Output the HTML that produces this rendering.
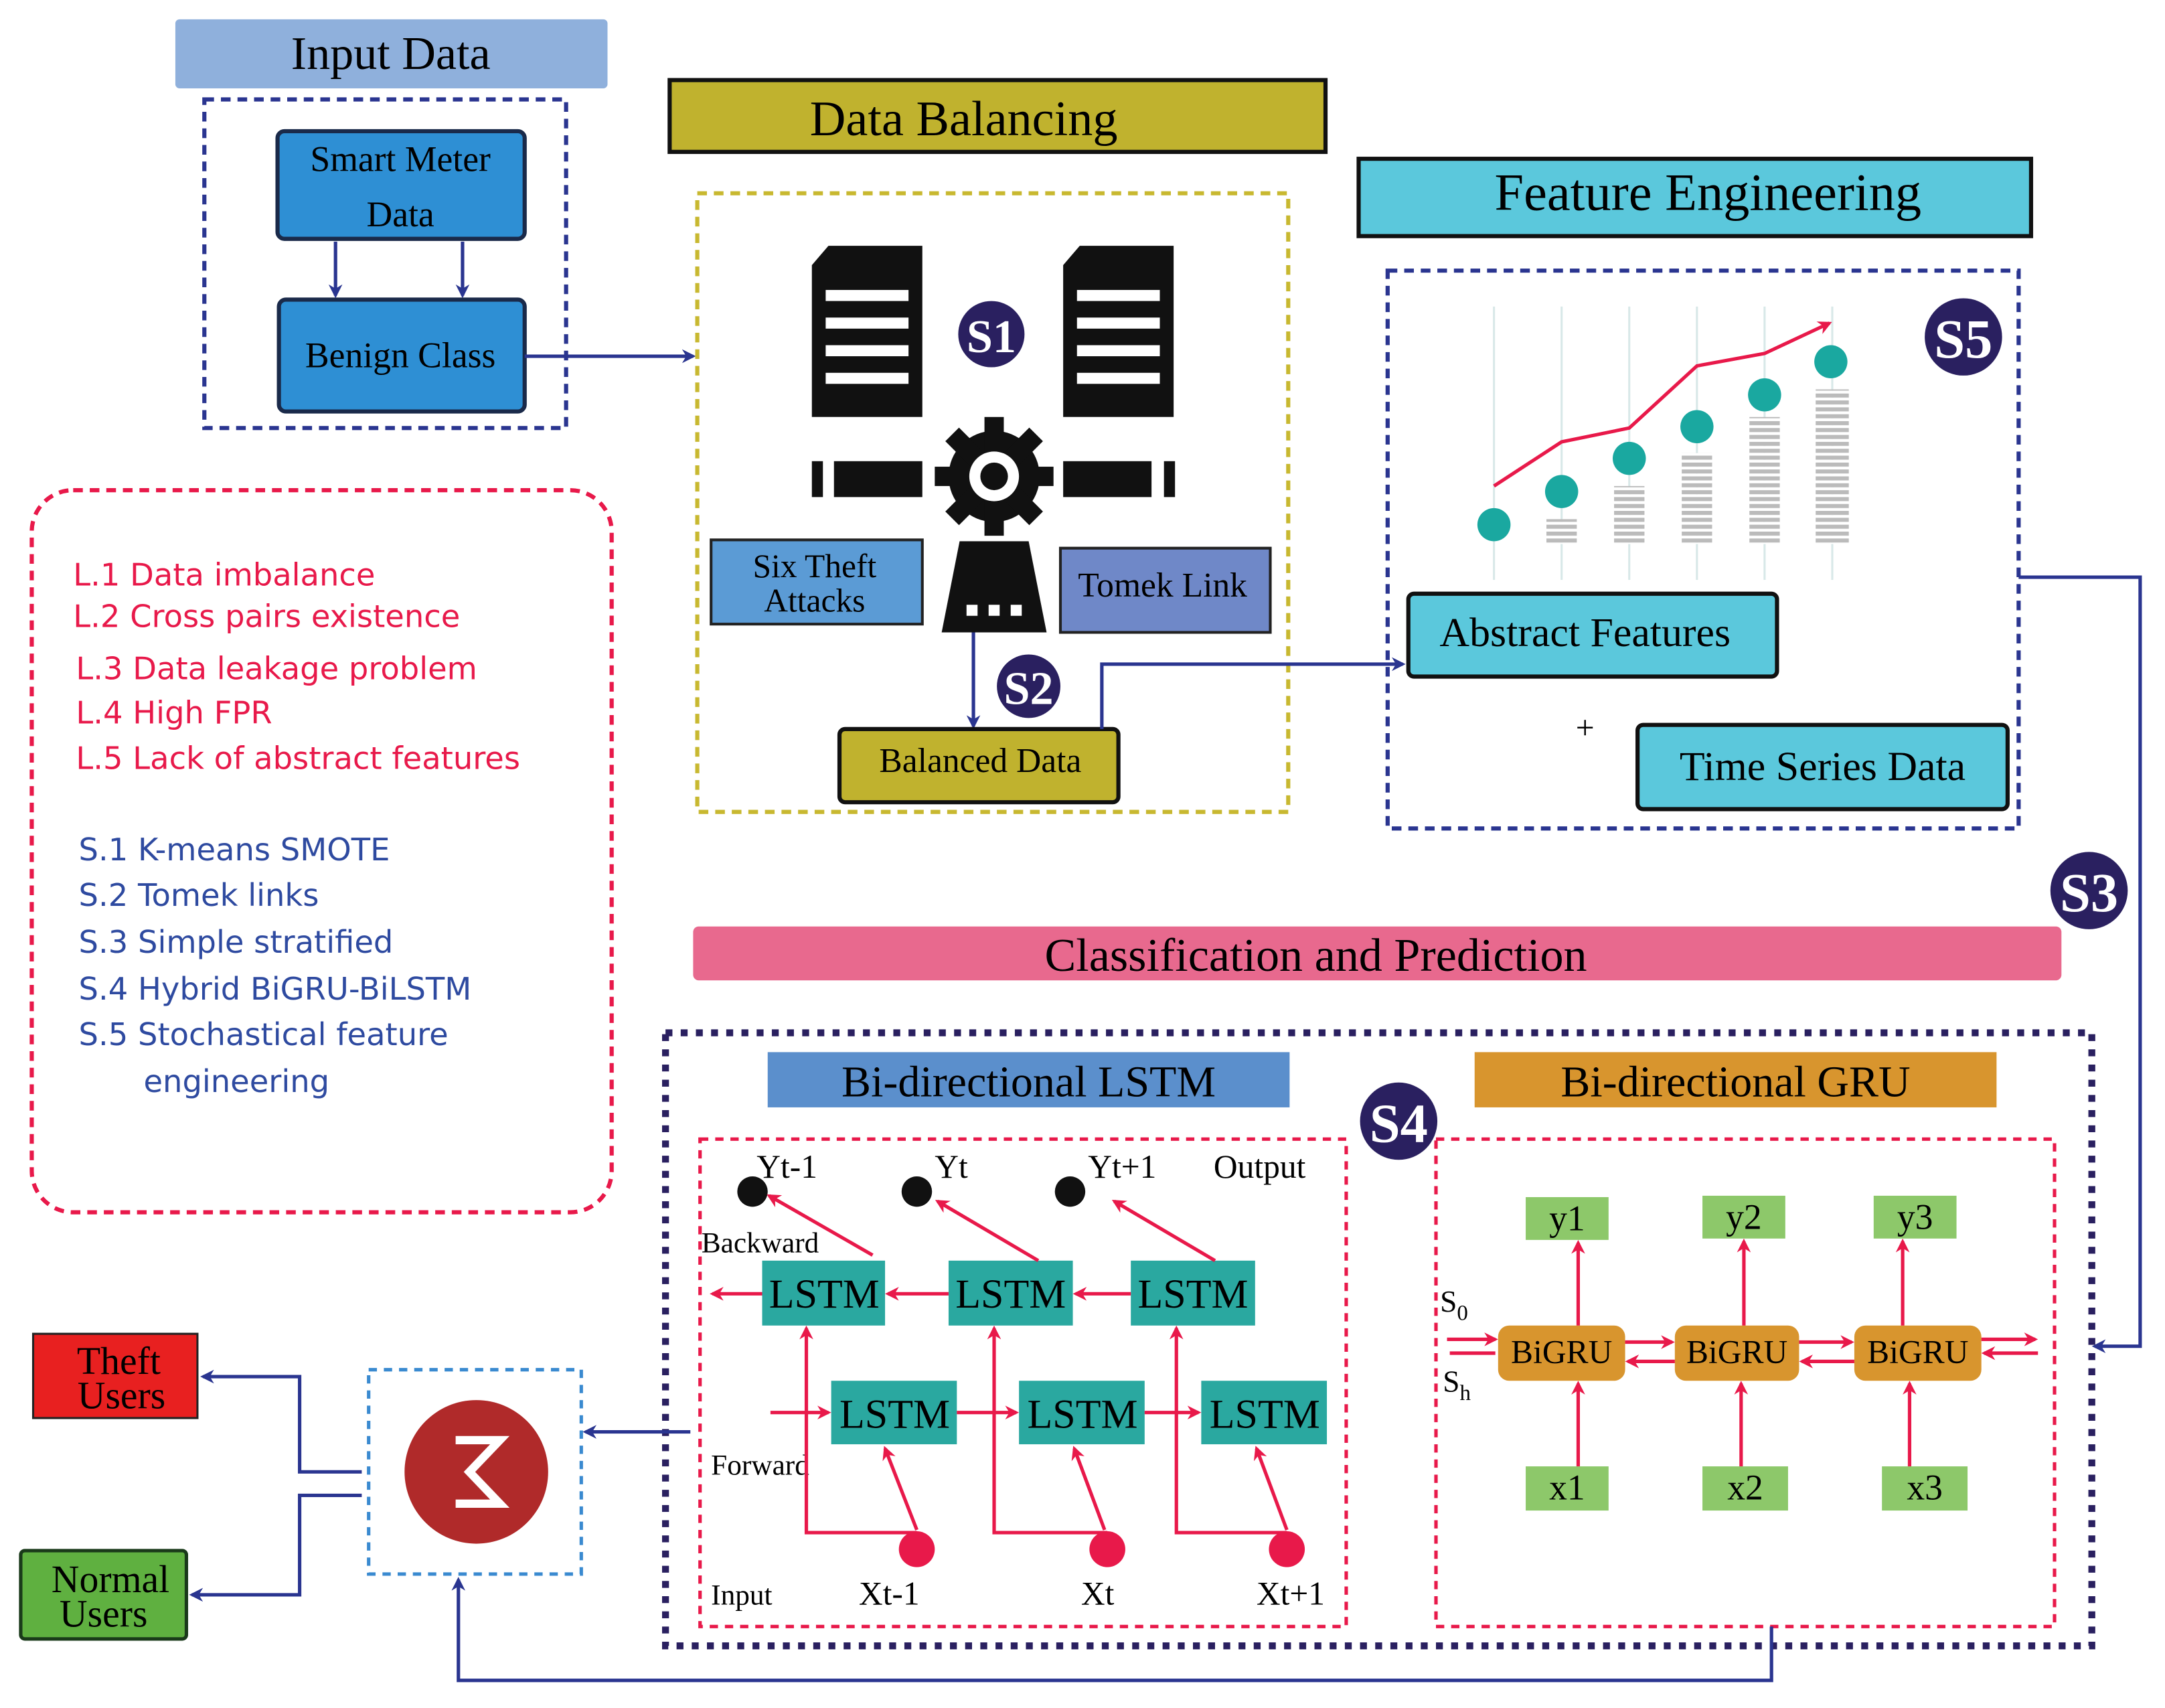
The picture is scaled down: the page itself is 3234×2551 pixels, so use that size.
<!DOCTYPE html>
<html><head><meta charset="utf-8"><style>html,body{margin:0;padding:0;background:#fff}svg{display:block}</style></head><body>
<svg width="3234" height="2551" viewBox="0 0 1568 1237" preserveAspectRatio="none" xmlns="http://www.w3.org/2000/svg" font-family="Liberation Serif, serif">
<defs>
<marker id="an" markerWidth="10" markerHeight="10" refX="8" refY="5" orient="auto" markerUnits="userSpaceOnUse"><path d="M0,0 L10,5 L0,10 L3,5z" fill="#2a3590"/></marker>
<marker id="ar" markerWidth="10" markerHeight="10" refX="8" refY="5" orient="auto" markerUnits="userSpaceOnUse"><path d="M0,0 L10,5 L0,10 L3,5z" fill="#e8194a"/></marker>
<pattern id="stripe" width="4" height="5" patternUnits="userSpaceOnUse"><rect width="4" height="3" fill="#bbb"/><rect y="3" width="4" height="2" fill="#fff"/></pattern>
</defs>
<rect width="1568" height="1237" fill="#fff"/>
<!-- Input data -->
<rect x="127" y="14" width="313" height="50" rx="3" fill="#8fb0dc"/>
<text x="283" y="50" font-size="34" text-anchor="middle">Input Data</text>
<rect x="148" y="72" width="262" height="238" fill="none" stroke="#2a3590" stroke-width="3" stroke-dasharray="7,5"/>
<rect x="201" y="95" width="179" height="78" rx="5" fill="#2e8fd4" stroke="#1a2a4a" stroke-width="3"/>
<text x="290" y="124" font-size="26" text-anchor="middle">Smart Meter</text>
<text x="290" y="164" font-size="26" text-anchor="middle">Data</text>
<rect x="202" y="217" width="178" height="81" rx="5" fill="#2e8fd4" stroke="#1a2a4a" stroke-width="3"/>
<text x="290" y="266" font-size="26" text-anchor="middle">Benign Class</text>
<line x1="243" y1="175" x2="243" y2="214" stroke="#2a3590" stroke-width="2.5" marker-end="url(#an)"/>
<line x1="335" y1="175" x2="335" y2="214" stroke="#2a3590" stroke-width="2.5" marker-end="url(#an)"/>
<line x1="380" y1="258" x2="502" y2="258" stroke="#2a3590" stroke-width="2.5" marker-end="url(#an)"/>
<!-- Data balancing -->
<rect x="485" y="58" width="475" height="52" fill="#c0b22e" stroke="#111" stroke-width="3"/>
<text x="698" y="98" font-size="36" text-anchor="middle">Data Balancing</text>
<rect x="505" y="140" width="428" height="448" fill="none" stroke="#c8b830" stroke-width="3" stroke-dasharray="7,5"/>
<g fill="#111">
<path d="M600,178 L668,178 L668,302 L588,302 L588,192z"/>
<path d="M782,178 L850,178 L850,302 L770,302 L770,192z"/>
<rect x="588" y="334" width="8" height="26"/><rect x="604" y="334" width="64" height="26"/>
<rect x="770" y="334" width="64" height="26"/><rect x="843" y="334" width="8" height="26"/>
<circle cx="720" cy="345" r="33"/>
<g transform="translate(720,345)">
<rect x="-7" y="-43" width="14" height="86"/><rect x="-43" y="-7" width="86" height="14"/>
<rect x="-7" y="-43" width="14" height="86" transform="rotate(45)"/><rect x="-7" y="-43" width="14" height="86" transform="rotate(-45)"/>
</g>
<path d="M695,392 L745,392 L758,458 L682,458z"/>
</g>
<g fill="#fff">
<rect x="598" y="210" width="60" height="8"/><rect x="598" y="230" width="60" height="8"/><rect x="598" y="250" width="60" height="8"/><rect x="598" y="270" width="60" height="8"/>
<rect x="780" y="210" width="60" height="8"/><rect x="780" y="230" width="60" height="8"/><rect x="780" y="250" width="60" height="8"/><rect x="780" y="270" width="60" height="8"/>
<circle cx="720" cy="345" r="18"/>
<rect x="700" y="438" width="8" height="8"/><rect x="716" y="438" width="8" height="8"/><rect x="732" y="438" width="8" height="8"/>
</g>
<circle cx="720" cy="345" r="10" fill="#111"/>
<circle cx="718" cy="242" r="24" fill="#2a2060"/><text x="718" y="255" font-size="34" font-weight="bold" fill="#fff" text-anchor="middle">S1</text>
<rect x="515" y="391" width="153" height="61" fill="#5b9bd5" stroke="#222" stroke-width="2"/>
<text x="590" y="418" font-size="24" text-anchor="middle">Six Theft</text>
<text x="590" y="443" font-size="24" text-anchor="middle">Attacks</text>
<rect x="768" y="397" width="152" height="61" fill="#6f88c8" stroke="#222" stroke-width="2"/>
<text x="842" y="432" font-size="25" text-anchor="middle">Tomek Link</text>
<line x1="705" y1="458" x2="705" y2="526" stroke="#2a3590" stroke-width="2.5" marker-end="url(#an)"/>
<circle cx="745" cy="497" r="23" fill="#2a2060"/><text x="745" y="510" font-size="34" font-weight="bold" fill="#fff" text-anchor="middle">S2</text>
<rect x="608" y="528" width="202" height="53" rx="4" fill="#c0b22e" stroke="#111" stroke-width="3"/>
<text x="710" y="559" font-size="25" text-anchor="middle">Balanced Data</text>
<polyline points="798,528 798,481 1016,481" fill="none" stroke="#2a3590" stroke-width="2.5" marker-end="url(#an)"/>
<!-- Feature engineering -->
<rect x="984" y="115" width="487" height="56" fill="#5bc8dc" stroke="#111" stroke-width="3"/>
<text x="1237" y="152" font-size="38" text-anchor="middle">Feature Engineering</text>
<rect x="1005" y="196" width="457" height="404" fill="none" stroke="#2a3590" stroke-width="3" stroke-dasharray="7,5"/>
<g stroke="#d8e8e8" stroke-width="1.5">
<line x1="1082" y1="222" x2="1082" y2="420"/><line x1="1131" y1="222" x2="1131" y2="420"/><line x1="1180" y1="222" x2="1180" y2="420"/><line x1="1229" y1="222" x2="1229" y2="420"/><line x1="1278" y1="222" x2="1278" y2="420"/><line x1="1327" y1="222" x2="1327" y2="420"/>
</g>
<g fill="url(#stripe)">
<rect x="1120" y="376" width="22" height="18"/><rect x="1169" y="352" width="22" height="42"/><rect x="1218" y="328" width="22" height="66"/><rect x="1267" y="302" width="22" height="92"/><rect x="1315" y="282" width="24" height="112"/>
</g>
<polyline points="1082,352 1131,320 1180,310 1229,265 1278,256 1325,234" fill="none" stroke="#e8194a" stroke-width="2.5" marker-end="url(#ar)"/>
<g fill="#1aa8a0"><circle cx="1082" cy="380" r="12"/><circle cx="1131" cy="356" r="12"/><circle cx="1180" cy="332" r="12"/><circle cx="1229" cy="309" r="12"/><circle cx="1278" cy="286" r="12"/><circle cx="1326" cy="262" r="12"/></g>
<circle cx="1422" cy="244" r="28" fill="#2a2060"/><text x="1422" y="259" font-size="40" font-weight="bold" fill="#fff" text-anchor="middle">S5</text>
<rect x="1020" y="430" width="267" height="60" rx="4" fill="#5bc8dc" stroke="#111" stroke-width="3"/>
<text x="1148" y="468" font-size="30" text-anchor="middle">Abstract Features</text>
<text x="1148" y="535" font-size="24" text-anchor="middle">+</text>
<rect x="1186" y="525" width="268" height="61" rx="4" fill="#5bc8dc" stroke="#111" stroke-width="3"/>
<text x="1320" y="565" font-size="30" text-anchor="middle">Time Series Data</text>
<polyline points="1462,418 1550,418 1550,975 1517,975" fill="none" stroke="#2a3590" stroke-width="2.5" marker-end="url(#an)"/>
<circle cx="1513" cy="645" r="28" fill="#2a2060"/><text x="1513" y="660" font-size="40" font-weight="bold" fill="#fff" text-anchor="middle">S3</text>
<!-- Left list -->
<rect x="23" y="355" width="420" height="523" rx="30" fill="none" stroke="#e8194a" stroke-width="3" stroke-dasharray="7,5"/>
<g font-family="DejaVu Sans, sans-serif" font-size="22.5" fill="#e8194a">
<text x="53" y="424">L.1  Data imbalance</text>
<text x="53" y="454">L.2  Cross pairs existence</text>
<text x="55" y="492">L.3  Data leakage problem</text>
<text x="55" y="524">L.4  High FPR</text>
<text x="55" y="557">L.5  Lack of abstract features</text>
</g>
<g font-family="DejaVu Sans, sans-serif" font-size="22.5" fill="#2e4aa0">
<text x="57" y="623">S.1  K-means SMOTE</text>
<text x="57" y="656">S.2  Tomek links</text>
<text x="57" y="690">S.3  Simple stratified</text>
<text x="57" y="724">S.4  Hybrid BiGRU-BiLSTM</text>
<text x="57" y="757">S.5  Stochastical feature</text>
<text x="104" y="791">engineering</text>
</g>
<!-- Classification -->
<rect x="502" y="671" width="991" height="39" rx="4" fill="#e8698e"/>
<text x="953" y="703" font-size="34" text-anchor="middle">Classification and Prediction</text>
<rect x="482" y="748" width="1033" height="444" fill="none" stroke="#2a2060" stroke-width="5" stroke-dasharray="5,6"/>
<rect x="556" y="762" width="378" height="40" fill="#5b8fcc"/>
<text x="745" y="794" font-size="32" text-anchor="middle">Bi-directional LSTM</text>
<rect x="1068" y="762" width="378" height="40" fill="#d8952e"/>
<text x="1257" y="794" font-size="32" text-anchor="middle">Bi-directional GRU</text>
<circle cx="1013" cy="812" r="28" fill="#2a2060"/><text x="1013" y="827" font-size="40" font-weight="bold" fill="#fff" text-anchor="middle">S4</text>
<rect x="507" y="825" width="468" height="353" fill="none" stroke="#e8194a" stroke-width="2.5" stroke-dasharray="6,5"/>
<rect x="1040" y="825" width="448" height="353" fill="none" stroke="#e8194a" stroke-width="2.5" stroke-dasharray="6,5"/>
<!-- LSTM internals -->
<g font-size="24">
<text x="548" y="853">Yt-1</text><text x="677" y="853">Yt</text><text x="788" y="853">Yt+1</text><text x="879" y="853">Output</text>
<text x="508" y="907" font-size="21">Backward</text><text x="515" y="1068" font-size="21">Forward</text>
<text x="515" y="1162" font-size="21">Input</text>
<text x="622" y="1162">Xt-1</text><text x="783" y="1162">Xt</text><text x="910" y="1162">Xt+1</text>
</g>
<g fill="#111"><circle cx="545" cy="863" r="11"/><circle cx="664" cy="863" r="11"/><circle cx="775" cy="863" r="11"/></g>
<g fill="#2aa8a0">
<rect x="552" y="913" width="89" height="47"/><rect x="687" y="913" width="90" height="47"/><rect x="819" y="913" width="90" height="47"/>
<rect x="602" y="1000" width="91" height="46"/><rect x="738" y="1000" width="91" height="46"/><rect x="870" y="1000" width="91" height="46"/>
</g>
<g font-size="30" text-anchor="middle">
<text x="597" y="947">LSTM</text><text x="732" y="947">LSTM</text><text x="864" y="947">LSTM</text>
<text x="648" y="1034">LSTM</text><text x="784" y="1034">LSTM</text><text x="916" y="1034">LSTM</text>
</g>
<g stroke="#e8194a" stroke-width="2.5" fill="none">
<line x1="552" y1="937" x2="516" y2="937" marker-end="url(#ar)"/>
<line x1="687" y1="937" x2="643" y2="937" marker-end="url(#ar)"/>
<line x1="819" y1="937" x2="779" y2="937" marker-end="url(#ar)"/>
<line x1="558" y1="1023" x2="600" y2="1023" marker-end="url(#ar)"/>
<line x1="693" y1="1023" x2="736" y2="1023" marker-end="url(#ar)"/>
<line x1="829" y1="1023" x2="868" y2="1023" marker-end="url(#ar)"/>
<line x1="632" y1="909" x2="557" y2="866" marker-end="url(#ar)"/>
<line x1="752" y1="913" x2="679" y2="870" marker-end="url(#ar)"/>
<line x1="880" y1="913" x2="807" y2="870" marker-end="url(#ar)"/>
<polyline points="664,1110 584,1110 584,962" marker-end="url(#ar)"/>
<polyline points="802,1110 720,1110 720,962" marker-end="url(#ar)"/>
<polyline points="932,1110 852,1110 852,962" marker-end="url(#ar)"/>
<line x1="664" y1="1108" x2="641" y2="1049" marker-end="url(#ar)"/>
<line x1="800" y1="1108" x2="778" y2="1049" marker-end="url(#ar)"/>
<line x1="932" y1="1108" x2="910" y2="1049" marker-end="url(#ar)"/>
</g>
<g fill="#e8194a"><circle cx="664" cy="1122" r="13"/><circle cx="802" cy="1122" r="13"/><circle cx="932" cy="1122" r="13"/></g>
<!-- GRU internals -->
<g fill="#8dc86a">
<rect x="1105" y="867" width="60" height="31"/><rect x="1233" y="866" width="60" height="31"/><rect x="1357" y="866" width="60" height="31"/>
<rect x="1105" y="1062" width="60" height="32"/><rect x="1233" y="1062" width="62" height="32"/><rect x="1363" y="1062" width="62" height="32"/>
</g>
<g font-size="26" text-anchor="middle">
<text x="1135" y="891">y1</text><text x="1263" y="890">y2</text><text x="1387" y="890">y3</text>
<text x="1135" y="1086">x1</text><text x="1264" y="1086">x2</text><text x="1394" y="1086">x3</text>
</g>
<g fill="#d8952e">
<rect x="1085" y="960" width="92" height="40" rx="8"/><rect x="1213" y="960" width="90" height="40" rx="8"/><rect x="1343" y="960" width="92" height="40" rx="8"/>
</g>
<g font-size="24" text-anchor="middle">
<text x="1131" y="987">BiGRU</text><text x="1258" y="987">BiGRU</text><text x="1389" y="987">BiGRU</text>
</g>
<text x="1043" y="950" font-size="22">S<tspan font-size="16" dy="6">0</tspan></text>
<text x="1045" y="1008" font-size="22">S<tspan font-size="16" dy="6">h</tspan></text>
<g stroke="#e8194a" stroke-width="2.5" fill="none">
<line x1="1143" y1="960" x2="1143" y2="900" marker-end="url(#ar)"/>
<line x1="1263" y1="960" x2="1263" y2="899" marker-end="url(#ar)"/>
<line x1="1378" y1="960" x2="1378" y2="899" marker-end="url(#ar)"/>
<line x1="1143" y1="1062" x2="1143" y2="1002" marker-end="url(#ar)"/>
<line x1="1261" y1="1062" x2="1261" y2="1002" marker-end="url(#ar)"/>
<line x1="1383" y1="1062" x2="1383" y2="1002" marker-end="url(#ar)"/>
<line x1="1048" y1="970" x2="1083" y2="970" marker-end="url(#ar)"/>
<line x1="1083" y1="980" x2="1050" y2="980"/>
<line x1="1177" y1="972" x2="1211" y2="972" marker-end="url(#ar)"/>
<line x1="1213" y1="986" x2="1179" y2="986" marker-end="url(#ar)"/>
<line x1="1303" y1="972" x2="1341" y2="972" marker-end="url(#ar)"/>
<line x1="1343" y1="986" x2="1305" y2="986" marker-end="url(#ar)"/>
<line x1="1435" y1="970" x2="1474" y2="970" marker-end="url(#ar)"/>
<line x1="1476" y1="980" x2="1437" y2="980" marker-end="url(#ar)"/>
</g>
<!-- Classifier -->
<rect x="267" y="992" width="154" height="148" fill="none" stroke="#3a8ad0" stroke-width="2.5" stroke-dasharray="6,5"/>
<circle cx="345" cy="1066" r="52" fill="#b02a2a"/>
<path d="M330,1043 L362,1043 L340,1066 L362,1089 L330,1089" fill="none" stroke="#fff" stroke-width="6"/>
<line x1="500" y1="1037" x2="424" y2="1037" stroke="#2a3590" stroke-width="2.5" marker-end="url(#an)"/>
<rect x="24" y="966" width="119" height="61" fill="#e82020" stroke="#222" stroke-width="1.5"/>
<text x="86" y="995" font-size="28" text-anchor="middle">Theft</text>
<text x="88" y="1020" font-size="28" text-anchor="middle">Users</text>
<rect x="15" y="1123" width="120" height="64" rx="3" fill="#5fb040" stroke="#1a3a1a" stroke-width="2.5"/>
<text x="80" y="1153" font-size="28" text-anchor="middle">Normal</text>
<text x="75" y="1178" font-size="28" text-anchor="middle">Users</text>
<polyline points="262,1066 217,1066 217,997 147,997" fill="none" stroke="#2a3590" stroke-width="2.5" marker-end="url(#an)"/>
<polyline points="262,1083 217,1083 217,1155 139,1155" fill="none" stroke="#2a3590" stroke-width="2.5" marker-end="url(#an)"/>
<polyline points="1283,1178 1283,1217 332,1217 332,1144" fill="none" stroke="#2a3590" stroke-width="2.5" marker-end="url(#an)"/>
</svg>
</body></html>
